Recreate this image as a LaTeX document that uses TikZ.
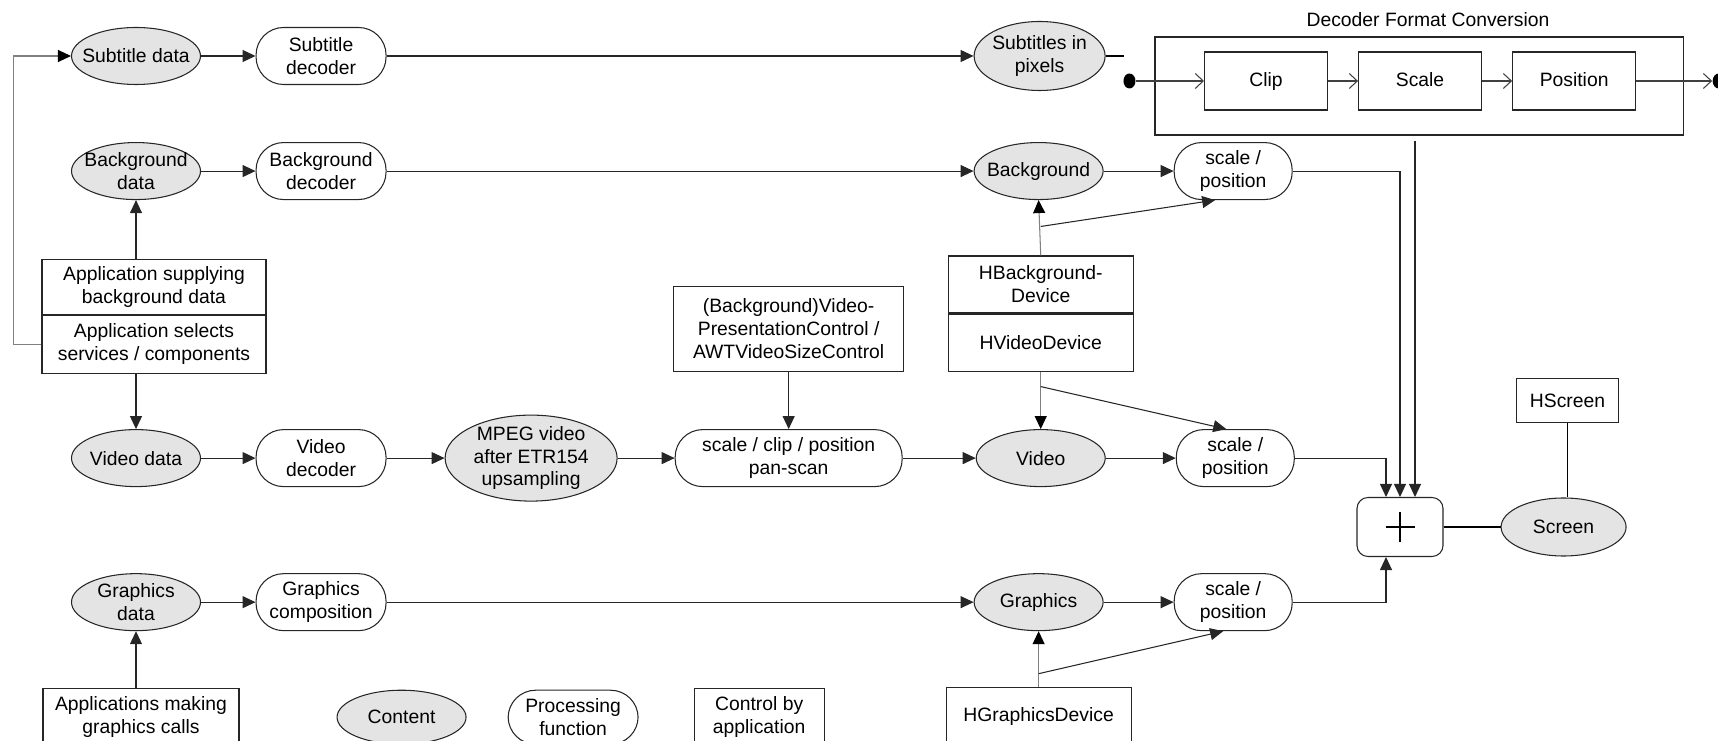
\documentclass[tikz,border=0pt]{standalone}
\usepackage{fontspec}
\setmainfont{Liberation Sans}
\usetikzlibrary{positioning,shapes.geometric,arrows.meta,calc}

\definecolor{contentgray}{RGB}{228,228,228}

\tikzset{
  datanode/.style={ellipse, draw=black!85, fill=contentgray, align=center,
    inner xsep=-8pt, inner ysep=-2pt, minimum width=2.58cm, minimum height=1.14cm},
  procfn/.style={rectangle, draw=black!85, rounded corners=0.55cm, align=center,
    inner sep=1pt, minimum width=2.6cm, minimum height=1.14cm},
  ctlbox/.style={rectangle, draw=black!85, align=center, inner sep=2pt,
    minimum width=3.7cm, minimum height=1.14cm},
  fmtbox/.style={rectangle, draw=black!85, text height=8pt, text depth=2.3pt,
    minimum width=2.46cm, minimum height=1.16cm},
  plusbox/.style={rectangle, draw=black!85, rounded corners=0.22cm,
    minimum width=1.72cm, minimum height=1.18cm},
  blob/.style={ellipse, fill=black, inner sep=0pt, minimum width=0.24cm, minimum height=0.3cm},
  arr/.style={draw=black!85, -{Triangle[length=0.26cm, width=0.24cm]}},
  ctlarr/.style={draw=black!50, -{Triangle[length=0.26cm, width=0.24cm, color=black]}},
  openarr/.style={draw=black!75, -{Straight Barb[length=0.16cm, width=0.3cm]}},
}

\begin{document}
\begin{tikzpicture}[font=\fontsize{11}{13}\selectfont, line width=0.6pt]
\useasboundingbox (0,0) rectangle (34.36,-14.82);
\clip (0,0) rectangle (34.36,-14.82);

% subtitles
\node[datanode] (sdata) at (2.72,-1.12) {Subtitle data};
\node[procfn, right=1.09cm of sdata] (sdec) {Subtitle\\decoder};
\node[datanode, right=11.74cm of sdec, minimum width=2.62cm, minimum height=1.38cm] (spix) {Subtitles in\\pixels};
\coordinate[right=0.36cm of spix] (send);

% background
\node[datanode, below=1.14cm of sdata] (bgdata) {Background\\data};
\node[procfn, right=1.09cm of bgdata] (bgdec) {Background\\decoder};
\node[datanode, right=11.74cm of bgdec] (bg) {Background};
\node[procfn, right=1.4cm of bg, minimum width=2.36cm] (bgsp) {scale /\\position};

% video
\node[datanode, below=4.58cm of bgdata] (vdata) {Video data};
\node[procfn, right=1.09cm of vdata] (vdec) {Video\\decoder};
\node[datanode, right=1.16cm of vdec, minimum width=3.44cm, minimum height=1.72cm] (mpeg) {MPEG video\\after ETR154\\upsampling};
\node[procfn, right=1.14cm of mpeg, minimum width=4.54cm] (scp) {scale / clip / position\\pan-scan};
\node[datanode, right=1.46cm of scp] (video) {Video};
\node[procfn, right=1.4cm of video, minimum width=2.36cm] (vsp) {scale /\\position};

% graphics
\node[datanode, below=1.72cm of vdata] (gdata) {Graphics\\data};
\node[procfn, right=1.09cm of gdata] (gcomp) {Graphics\\composition};
\node[datanode, right=11.74cm of gcomp] (gfx) {Graphics};
\node[procfn, right=1.4cm of gfx, minimum width=2.36cm] (gsp) {scale /\\position};

% control by applications
\node[ctlbox, below=1.17cm of bgdata, xshift=0.36cm, minimum width=4.48cm, minimum height=1.1cm] (appbg) {Application supplying\\background data};
\node[ctlbox, below=0pt of appbg, minimum width=4.48cm, minimum height=1.16cm] (appsel) {Application selects\\services / components};
\node[ctlbox, above=1.15cm of scp, minimum width=4.6cm, minimum height=1.7cm] (vpc) {(Background)Video-\\PresentationControl /\\AWTVideoSizeControl};
\node[ctlbox, above=1.15cm of video] (hvid) {HVideoDevice};
\node[ctlbox, above=0pt of hvid] (hbg) {HBackground-\\Device};
\node[ctlbox, below=1.11cm of gfx, minimum height=1.16cm] (hgfx) {HGraphicsDevice};
\coordinate[above=0.58cm of hbg] (bgj);
\coordinate[below=0.3cm of hvid] (vj);
\coordinate[above=0.26cm of hgfx] (gj);

% decoder format conversion
\node[rectangle, draw=black!85, minimum width=10.56cm, minimum height=1.96cm] (dfc) at (28.38,-1.72) {};
\node[above=0.18cm of dfc, xshift=0.18cm, inner sep=0pt] (dfctitle) {Decoder Format Conversion};
\node[fmtbox] (fclip) at (25.32,-1.62) {Clip};
\node[fmtbox, right=0.6cm of fclip] (fscale) {Scale};
\node[fmtbox, right=0.6cm of fscale] (fpos) {Position};
\node[blob, left=1.36cm of fclip] (din) {};
\node[blob, right=1.52cm of fpos] (dout) {};

% composition
\node[plusbox] (plus) at (28,-10.54) {};
\node[datanode, right=1.14cm of plus, minimum width=2.5cm, minimum height=1.16cm] (screen) {Screen};
\node[ctlbox, above=1.48cm of screen, xshift=0.08cm, minimum width=2.04cm, minimum height=0.88cm] (hscreen) {HScreen};
\coordinate (pinl) at ($(plus.north)+(-0.28,0)$);
\coordinate (pinr) at ($(plus.north)+(0.3,0)$);
\coordinate (pinb) at ($(plus.south)+(-0.28,0)$);

% legend
\node[ctlbox, below=1.13cm of gdata, xshift=0.1cm, minimum width=3.92cm, minimum height=1.16cm] (agc) {Applications making\\graphics calls};
\node[datanode, right=1.94cm of agc, minimum height=1.08cm] (lcontent) {Content};
\node[procfn, right=0.82cm of lcontent, minimum height=1.08cm] (lproc) {Processing\\function};
\node[ctlbox, right=1.1cm of lproc, minimum width=2.6cm, minimum height=1.16cm] (lctl) {Control by\\application};

% flows
\draw[arr] (sdata) -- (sdec);
\draw[arr] (sdec) -- (spix);
\draw (spix) -- (send);
\draw[arr] (bgdata) -- (bgdec);
\draw[arr] (bgdec) -- (bg);
\draw[arr] (bg) -- (bgsp);
\draw[arr] (vdata) -- (vdec);
\draw[arr] (vdec) -- (mpeg);
\draw[arr] (mpeg) -- (scp);
\draw[arr] (scp) -- (video);
\draw[arr] (video) -- (vsp);
\draw[arr] (gdata) -- (gcomp);
\draw[arr] (gcomp) -- (gfx);
\draw[arr] (gfx) -- (gsp);

% controls
\draw[ctlarr] (appsel.west) -- ++(-0.56,0) |- (sdata.west);
\draw[arr] (appbg.north -| bgdata.south) -- (bgdata.south);
\draw[arr] (appsel.south -| vdata.north) -- (vdata.north);
\draw[arr] (agc.north -| gdata.south) -- (gdata.south);
\draw[arr] (vpc) -- (scp);
\draw[ctlarr] (hbg.north) -- (bg.south);
\draw[arr] (bgj) -- ([xshift=-0.36cm]bgsp.south);
\draw[ctlarr] (hvid.south) -- (video.north);
\draw[arr] (vj) -- ([xshift=-0.18cm]vsp.north);
\draw[ctlarr] (hgfx.north) -- (gfx.south);
\draw[arr] (gj) -- ([xshift=-0.2cm]gsp.south);

% format conversion chain
\draw[openarr] (din) -- (fclip);
\draw[openarr] (fclip) -- (fscale);
\draw[openarr] (fscale) -- (fpos);
\draw[openarr] (fpos) -- (dout);

% into the mixer
\draw[arr] (vsp) -| (pinl);
\draw[arr] (bgsp) -| (plus.north);
\draw[arr] ($(pinr |- dfc.south)+(0,-0.1)$) -- (pinr);
\draw[arr] (gsp) -| (pinb);
\draw ([xshift=-0.29cm]plus.center) -- ([xshift=0.29cm]plus.center);
\draw ([yshift=-0.3cm]plus.center) -- ([yshift=0.3cm]plus.center);
\draw (plus) -- (screen);
\draw (hscreen.south) -- (hscreen.south |- screen.north);
\end{tikzpicture}
\end{document}
